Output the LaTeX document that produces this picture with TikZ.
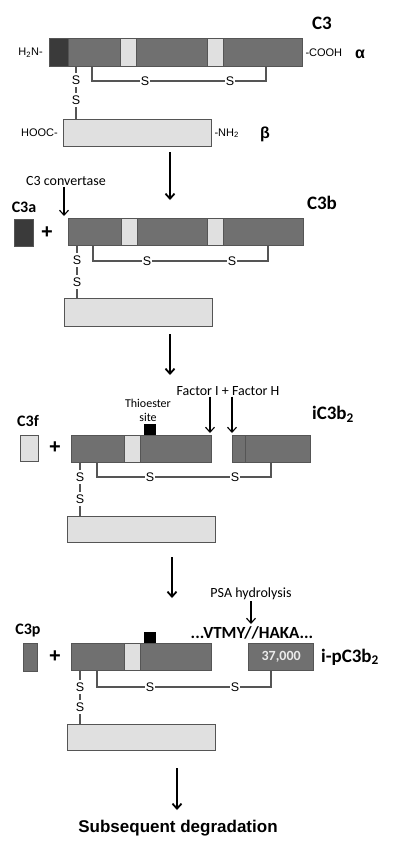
\documentclass[tikz,border=0pt]{standalone}
\usepackage{fontspec}
\setmainfont{Carlito}
\newfontfamily\arialfont{Liberation Sans}
\usetikzlibrary{arrows.meta,positioning}
\definecolor{chain}{HTML}{707070}
\definecolor{rim}{HTML}{555555}
\definecolor{nterm}{HTML}{3A3A3A}
\definecolor{pale}{HTML}{E0E0E0}

\begin{document}
\begin{tikzpicture}[x=1pt,y=-1pt,>={Straight Barb[length=5pt,width=9pt]},
    bar/.style={draw=rim,line width=1.3pt,fill=chain,inner sep=0pt,anchor=north west},
    sl/.style={font=\arialfont\fontsize{12.5}{12.5}\selectfont,inner xsep=1pt,inner ysep=2.5pt},
    chem/.style={font=\arialfont\fontsize{11}{11}\selectfont,inner sep=0pt},
    tag/.style={font=\bfseries\fontsize{19}{19}\selectfont,inner sep=0pt},
    note/.style={font=\fontsize{14}{14}\selectfont,inner sep=1pt},
    plus/.style={font=\arialfont\bfseries\fontsize{20}{20}\selectfont,inner sep=0pt},
    link/.style={draw=rim,line width=1.3pt},
    step arrow/.style={->,line width=1.8pt},
    cut/.style={->,line width=1.1pt}]
    \useasboundingbox (0,0) rectangle (400,846);

    % C3
    \node[bar,minimum width=253pt,minimum height=28pt] (a1) at (49,38) {};
    \node[bar,fill=nterm,minimum width=19pt,minimum height=28pt] (n1) at (49,38) {};
    \node[bar,fill=pale,minimum width=16pt,minimum height=28pt] (e1) at (120,38) {};
    \node[bar,fill=pale,minimum width=16pt,minimum height=28pt] (g1) at (207,38) {};
    \node[bar,fill=pale,minimum width=148pt,minimum height=27pt] (b1) at (63,119) {};
    \node[tag] (c3) at (322,23) {C3};
    \node[chem] (h1) [left=6pt of a1] {H\textsubscript{2}N-};
    \node[chem] (o1) [right=2pt of a1] {-COOH};
    \node[chem] (h2) [left=5pt of b1] {HOOC-};
    \node[chem] (o2) [right=2pt of b1] {-NH\textsubscript{2}};
    \node[font=\arialfont\bfseries\fontsize{16}{16}\selectfont] (al) at (360,54) {α};
    \node[font=\arialfont\bfseries\fontsize{16}{16}\selectfont] (be) at (265,134) {β};
    \node[sl] (p1) at (76,80) {S};
    \node[sl] (q1) at (76,100) {S};
    \node[sl] (u1) at (145,81) {S};
    \node[sl] (v1) at (230,81) {S};
    \coordinate (k1) at (92,66);
    \coordinate (m1) at (266,66);
    \path[link]
        (p1 |- a1.south) edge (p1)
        (p1) edge (q1)
        (q1) edge (q1 |- b1.north);
    \draw[link] (k1) |- (u1) -- (v1) -| (m1);

    \coordinate (s1) at (170,152);
    \coordinate (t1) at (170,200);
    \draw[step arrow] (s1) -- (t1);

    % C3b
    \node[bar,fill=nterm,minimum width=19pt,minimum height=27pt] (f2) at (14,219) {};
    \node[tag,font=\bfseries\fontsize{16}{16}\selectfont] (c3a) at (24,207) {C3a};
    \node[plus] (pl2) at (47,233) {+};
    \node[bar,minimum width=235pt,minimum height=27pt] (a2) at (68,218) {};
    \node[bar,fill=pale,minimum width=16pt,minimum height=27pt] (e2) at (121,218) {};
    \node[bar,fill=pale,minimum width=16pt,minimum height=27pt] (g2) at (207,218) {};
    \node[bar,fill=pale,minimum width=148pt,minimum height=28pt] (b2) at (64,298) {};
    \node[tag] (c3b) at (322,203) {C3b};
    \node[note] (cv) at (66,181) {C3 convertase};
    \coordinate (w2) at (64,216);
    \draw[cut] (cv.south -| w2) -- (w2);
    \node[sl] (p2) at (77,260) {S};
    \node[sl] (q2) at (77,282) {S};
    \node[sl] (u2) at (147,261) {S};
    \node[sl] (v2) at (232,261) {S};
    \coordinate (k2) at (93,245);
    \coordinate (m2) at (268,245);
    \path[link]
        (p2 |- a2.south) edge (p2)
        (p2) edge (q2)
        (q2) edge (q2 |- b2.north);
    \draw[link] (k2) |- (u2) -- (v2) -| (m2);

    \coordinate (s2) at (170,334);
    \coordinate (t2) at (170,375);
    \draw[step arrow] (s2) -- (t2);

    % iC3b2
    \node[bar,fill=pale,minimum width=18pt,minimum height=26pt] (f3) at (20,435) {};
    \node[tag,font=\bfseries\fontsize{16}{16}\selectfont] (c3f) at (28,421) {C3f};
    \node[plus] (pl3) at (55,448) {+};
    \node[bar,minimum width=140pt,minimum height=27pt] (a3) at (71,435) {};
    \node[bar,fill=pale,minimum width=16pt,minimum height=27pt] (e3) at (124,435) {};
    \node[bar,minimum width=78pt,minimum height=27pt] (r3) at (232,435) {};
    \node[bar,minimum width=13pt,minimum height=27pt] (d3) at (232,435) {};
    \node[fill=black,minimum width=12pt,minimum height=11pt,inner sep=0pt,anchor=south] (x3) at (150,435) {};
    \node[font=\fontsize{12}{14}\selectfont,align=center,inner sep=0pt] (th) at (148,410) {Thioester\\site};
    \node[note] (fi) at (228,391) {Factor I + Factor H};
    \node[tag] (ic3) at (333,414) {iC3b\textsubscript{2}};
    \coordinate (w3) at (210,433);
    \coordinate (z3) at (232,433);
    \draw[cut] (fi.south -| w3) -- (w3);
    \draw[cut] (fi.south -| z3) -- (z3);
    \node[sl] (p3) at (80,477) {S};
    \node[sl] (q3) at (80,499) {S};
    \node[sl] (u3) at (150,477) {S};
    \node[sl] (v3) at (235,477) {S};
    \node[bar,fill=pale,minimum width=148pt,minimum height=26pt] (b3) at (67,516) {};
    \coordinate (k3) at (97,462);
    \coordinate (m3) at (271,462);
    \path[link]
        (p3 |- a3.south) edge (p3)
        (p3) edge (q3)
        (q3) edge (q3 |- b3.north);
    \draw[link] (k3) |- (u3) -- (v3) -| (m3);

    \coordinate (s3) at (172,557);
    \coordinate (t3) at (172,598);
    \draw[step arrow] (s3) -- (t3);

    % i-pC3b2
    \node[bar,minimum width=14pt,minimum height=28pt] (f4) at (23,643) {};
    \node[tag,font=\bfseries\fontsize{16}{16}\selectfont] (c3p) at (28,631) {C3p};
    \node[plus] (pl4) at (55,657) {+};
    \node[bar,minimum width=140pt,minimum height=27pt] (a4) at (71,643) {};
    \node[bar,fill=pale,minimum width=16pt,minimum height=27pt] (e4) at (124,643) {};
    \node[fill=black,minimum width=12pt,minimum height=11pt,inner sep=0pt,anchor=south] (x4) at (150,643) {};
    \node[bar,minimum width=65pt,minimum height=27pt] (r4) at (248,643) {};
    \node[font=\bfseries\fontsize{14}{14}\selectfont,text=white!92!black] (kd) at (r4.center) {37,000};
    \node[tag] (ipc) at (350,657) {i-pC3b\textsubscript{2}};
    \node[note] (psa) at (251,594) {PSA hydrolysis};
    \node[font=\bfseries\fontsize{17}{17}\selectfont,inner sep=0pt] (sq) at (252,633) {...VTMY//HAKA...};
    \coordinate (w4) at (251,624);
    \draw[cut] (psa.south -| w4) -- (w4);
    \node[sl] (p4) at (80,687) {S};
    \node[sl] (q4) at (80,707) {S};
    \node[sl] (u4) at (150,687) {S};
    \node[sl] (v4) at (235,687) {S};
    \node[bar,fill=pale,minimum width=148pt,minimum height=26pt] (b4) at (67,724) {};
    \coordinate (k4) at (97,670);
    \coordinate (m4) at (271,670);
    \path[link]
        (p4 |- a4.south) edge (p4)
        (p4) edge (q4)
        (q4) edge (q4 |- b4.north);
    \draw[link] (k4) |- (u4) -- (v4) -| (m4);

    \node[font=\arialfont\bfseries\fontsize{17}{17}\selectfont] (sd) at (178,828) {Subsequent degradation};
    \coordinate (s4) at (177,768);
    \coordinate (t4) at (177,810);
    \draw[step arrow] (s4) -- (t4);
\end{tikzpicture}
\end{document}
